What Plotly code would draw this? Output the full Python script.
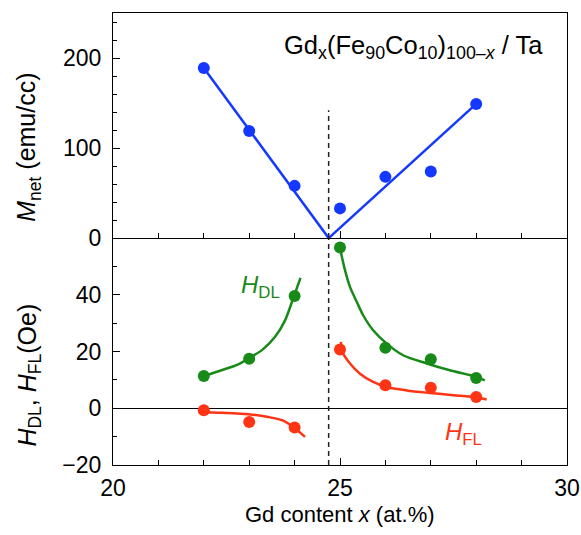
import plotly.graph_objects as go

# ---- data ----
gd_content = [22, 23, 24, 25, 26, 27, 28]
m_net = [189, 119, 58, 33, 68, 74, 149]
h_dl = [11.4, 17.5, 39.6, 56.7, 21.3, 17.3, 10.7]
h_fl = [-0.7, -4.8, -6.8, 20.7, 8.1, 7.2, 4.0]

compensation_x = 24.75
dash_top_mnet = 142

m_fit_left_x = [22.0, 24.75]
m_fit_left_y = [189, 0]
m_fit_right_x = [24.75, 28.0]
m_fit_right_y = [0, 149]

dl_fit_left_x = [21.99, 22.39, 22.76, 22.98, 23.28, 23.57, 23.79, 23.97, 24.13]
dl_fit_left_y = [11.3, 13.4, 15.5, 17.5, 20.5, 25.2, 31.0, 38.8, 46.0]
dl_fit_right_x = [25.01, 25.11, 25.22, 25.37, 25.51, 25.73, 26.03, 26.39, 26.91, 27.42, 28.01, 28.19]
dl_fit_right_y = [55.7, 48.7, 42.8, 37.5, 32.8, 27.5, 22.8, 18.7, 15.8, 13.4, 11.0, 9.8]
fl_fit_left_x = [21.88, 22.39, 22.98, 23.42, 23.72, 23.97, 24.23]
fl_fit_left_y = [-1.3, -1.6, -2.1, -3.1, -4.2, -6.6, -10.1]
fl_fit_right_x = [25.02, 25.07, 25.22, 25.44, 25.73, 26.03, 26.47, 26.98, 27.5, 28.01, 28.23]
fl_fit_right_y = [23.4, 19.3, 15.8, 12.2, 9.3, 7.5, 6.3, 5.4, 4.6, 3.8, 3.1]

BLUE = "#1438ff"
GREEN = "#188a18"
RED = "#ff3414"
FONT = "Arial, Liberation Sans, sans-serif"

fig = go.Figure()

def line(x, y, color, yaxis, shape="linear"):
    fig.add_trace(go.Scatter(x=x, y=y, mode="lines", xaxis="x2" if yaxis == "y2" else "x",
                             yaxis=yaxis, line=dict(color=color, width=2.5, shape=shape,
                                                    smoothing=0.8),
                             showlegend=False, hoverinfo="skip"))

line(m_fit_left_x, m_fit_left_y, BLUE, "y2")
line(m_fit_right_x, m_fit_right_y, BLUE, "y2")
line(dl_fit_left_x, dl_fit_left_y, GREEN, "y", "spline")
line(dl_fit_right_x, dl_fit_right_y, GREEN, "y", "spline")
line(fl_fit_left_x, fl_fit_left_y, RED, "y", "spline")
line(fl_fit_right_x, fl_fit_right_y, RED, "y", "spline")

fig.add_trace(go.Scatter(x=gd_content, y=m_net, mode="markers", xaxis="x2", yaxis="y2",
                         marker=dict(color=BLUE, size=12), showlegend=False))
fig.add_trace(go.Scatter(x=gd_content, y=h_dl, mode="markers", xaxis="x", yaxis="y",
                         marker=dict(color=GREEN, size=12), showlegend=False))
fig.add_trace(go.Scatter(x=gd_content, y=h_fl, mode="markers", xaxis="x", yaxis="y",
                         marker=dict(color=RED, size=12), showlegend=False))

# dashed compensation line: from bottom of lower panel up into the upper panel
fig.add_trace(go.Scatter(x=[compensation_x, compensation_x], y=[-20, 60], mode="lines",
                         xaxis="x", yaxis="y", line=dict(color="#222", width=1.5, dash="5px,4px"),
                         showlegend=False, hoverinfo="skip"))
fig.add_trace(go.Scatter(x=[compensation_x, compensation_x], y=[0, dash_top_mnet], mode="lines",
                         xaxis="x2", yaxis="y2", line=dict(color="#222", width=1.5, dash="5px,4px"),
                         showlegend=False, hoverinfo="skip"))

axis_common = dict(showline=True, linecolor="black", linewidth=1.3, automargin=False,
                   showgrid=False, ticks="inside", tickcolor="black", tickwidth=1.2,
                   ticklen=7, tickfont=dict(family=FONT, size=23, color="black"))

fig.update_layout(
    width=581, height=535,
    margin=dict(l=113, r=14, t=13, b=70),
    paper_bgcolor="white", plot_bgcolor="white",
    font=dict(family=FONT, color="black"),
    xaxis=dict(domain=[0, 1], anchor="y", range=[20, 30], tickmode="linear", tick0=20, dtick=5,
               mirror=False, ticklabelstandoff=2,
               minor=dict(dtick=1, ticks="inside", ticklen=5, tickcolor="black", tickwidth=1.2),
               zeroline=False, **axis_common),
    xaxis2=dict(domain=[0, 1], anchor="y2", matches="x", range=[20, 30], tickmode="linear",
                tick0=20, dtick=5, showticklabels=False, mirror=True,
                minor=dict(dtick=1, ticks="inside", ticklen=5, tickcolor="black", tickwidth=1.2),
                zeroline=False, **axis_common),
    yaxis=dict(domain=[0, 0.502], anchor="x", range=[-20, 60], tickvals=[-20, 0, 20, 40],
               mirror=True, ticklabelstandoff=6,
               minor=dict(dtick=10, ticks="inside", ticklen=4, tickcolor="black", tickwidth=1.2),
               zeroline=True, zerolinecolor="black", zerolinewidth=1.3, **axis_common),
    yaxis2=dict(domain=[0.502, 1], anchor="x2", range=[0, 250], tickvals=[0, 100, 200],
                mirror=True, ticklabelstandoff=6,
                minor=dict(dtick=20, ticks="inside", ticklen=4, tickcolor="black", tickwidth=1.2),
                zeroline=False, **axis_common),
)

ann = []
ann.append(dict(text="<i>M</i><sub>net</sub> (emu/cc)", xref="paper", yref="paper",
                x=-0.186, y=0.703, textangle=-90, showarrow=False,
                font=dict(size=25, family=FONT, color="black"), xanchor="center", yanchor="middle"))
ann.append(dict(text="<i>H</i><sub>DL</sub>, <i>H</i><sub>FL</sub>(Oe)", xref="paper", yref="paper",
                x=-0.186, y=0.199, textangle=-90, showarrow=False,
                font=dict(size=25, family=FONT, color="black"), xanchor="center", yanchor="middle"))
ann.append(dict(text="Gd content <i>x</i> (at.%)", xref="paper", yref="paper",
                x=0.5, y=-0.11, showarrow=False,
                font=dict(size=22, family=FONT, color="black"), xanchor="center", yanchor="middle"))
ann.append(dict(text="Gd<sub>x</sub>(Fe<sub>90</sub>Co<sub>10</sub>)<sub>100\u2013<i>x</i></sub> / Ta",
                xref="paper", yref="paper", x=0.372, y=0.925, showarrow=False,
                font=dict(size=25.5, family=FONT, color="black"), xanchor="left", yanchor="middle"))
ann.append(dict(text="<i>H</i><sub>DL</sub>", xref="x", yref="y", x=23.25, y=43,
                showarrow=False, font=dict(size=24, family=FONT, color=GREEN),
                xanchor="center", yanchor="middle"))
ann.append(dict(text="<i>H</i><sub>FL</sub>", xref="x", yref="y", x=27.71, y=-9,
                showarrow=False, font=dict(size=24, family=FONT, color=RED),
                xanchor="center", yanchor="middle"))
fig.update_layout(annotations=ann)

fig.write_html("out.html")
